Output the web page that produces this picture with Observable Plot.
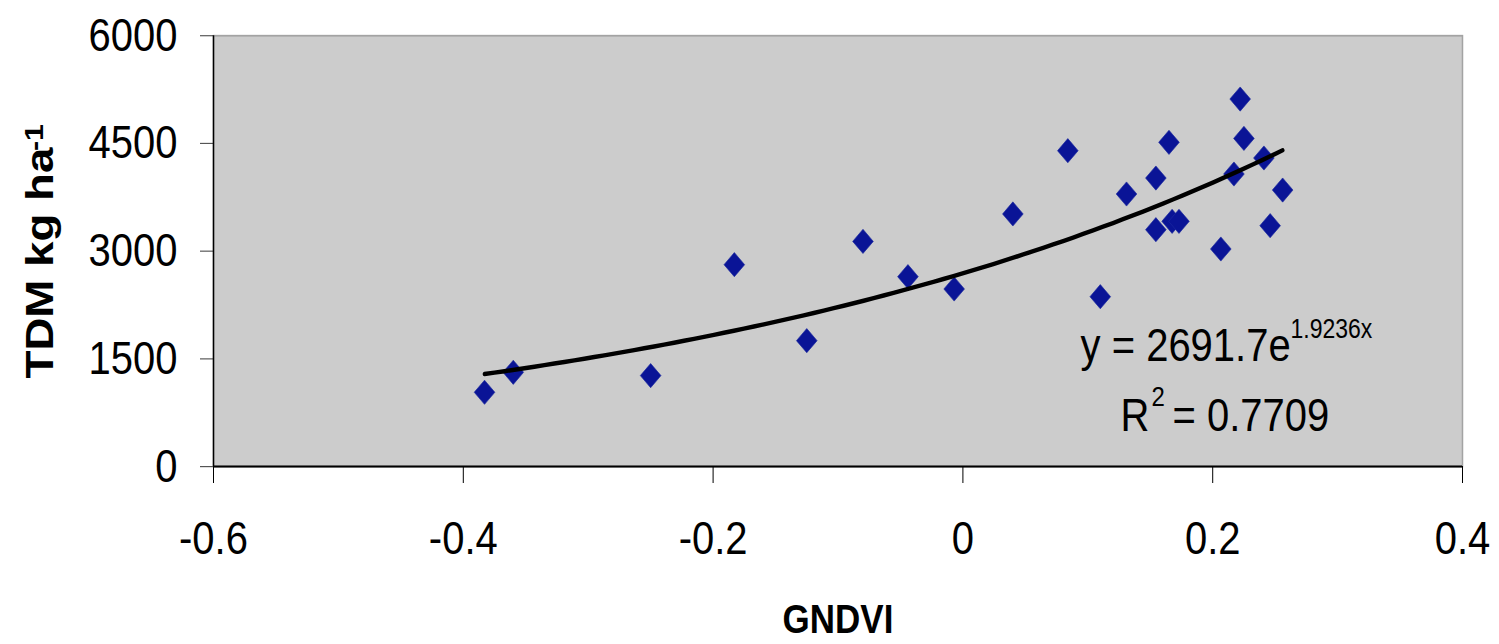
<!DOCTYPE html>
<html>
<head>
<meta charset="utf-8">
<script src="https://cdn.jsdelivr.net/npm/d3@7"></script>
<script src="https://cdn.jsdelivr.net/npm/@observablehq/plot@0.6"></script>
<style>
  html, body { margin: 0; padding: 0; background: white; overflow: hidden; }
  #chart { width: 1499px; height: 644px; overflow: hidden; }
</style>
</head>
<body>
<div id="chart"></div>
<script>
// ---- data ----
const gndvi = [-0.383, -0.360, -0.250, -0.183, -0.125, -0.080, -0.044, -0.007, 0.040, 0.084,
               0.110, 0.131, 0.1545, 0.1545, 0.165, 0.1675, 0.173, 0.2065, 0.217, 0.222,
               0.225, 0.241, 0.246, 0.256];
const tdm   = [1035, 1313, 1267, 2812, 1754, 3136, 2645, 2473, 3518, 4399,
               2366, 3796, 4018, 3299, 4515, 3415, 3415, 3030, 4074, 5118,
               4570, 4297, 3355, 3851];
const xTicks = [-0.6, -0.4, -0.2, 0, 0.2, 0.4];
const yTicks = [0, 1500, 3000, 4500, 6000];
const xLabel = "GNDVI";
const yLabel = "TDM kg ha";
const yLabelSup = "-1";
// exponential trend line shown in the chart: y = a * e^(b x)
const trendA = 2691.7;
const trendB = 1.9236;
const eqMain = "y = 2691.7e";
const eqSup = "1.9236x";
const r2Main = "R";
const r2Sup = "2";
const r2Rest = "= 0.7709";

// ---- build tables ----
const points = gndvi.map((x, i) => ({x, y: tdm[i]}));
const [xmin, xmax] = d3.extent(gndvi);
const trend = d3.range(0, 81).map(i => {
  const x = xmin + (xmax - xmin) * i / 80;
  return {x, y: trendA * Math.exp(trendB * x)};
});

const H = 550;
const S = 644 / H;
const font = "Arial, 'Liberation Sans', Helvetica, sans-serif";

const svg = Plot.plot({
  width: 1499,
  height: H,
  marginTop: 30,
  marginBottom: 152,
  marginLeft: 213,
  marginRight: 37,
  style: {fontFamily: font, color: "black", background: "white", overflow: "visible"},
  x: {domain: [-0.6, 0.4]},
  y: {domain: [0, 6000]},
  marks: [
    Plot.frame({fill: "#cccccc", stroke: "#a3a3a3", strokeWidth: 1.5}),
    Plot.axisY({ticks: yTicks, tickSize: 13, tickPadding: 23, fontSize: 40,
                tickFormat: d => String(d), label: null, stroke: "#555"}),
    Plot.axisX({ticks: xTicks, tickSize: 14.5, tickPadding: 31.6, fontSize: 40,
                tickFormat: d => String(d), label: null}),
    Plot.ruleY([0], {stroke: "black", strokeWidth: 1.7}),
    Plot.ruleX([-0.6], {stroke: "black", strokeWidth: 1.5}),
    Plot.dot(points, {x: "x", y: "y", symbol: "diamond2", r: 9.3, fill: "#0a1496", stroke: "#1c2aa0", strokeWidth: 0.6}),
    Plot.line(trend, {x: "x", y: "y", stroke: "black", strokeWidth: 3.8, curve: "linear"}),
    // equation annotation
    Plot.text([eqMain], {x: 0.0942, y: 1476, textAnchor: "start", lineAnchor: "bottom", fontSize: 40, fill: "black"}),
    Plot.text([eqSup], {x: 0.2623, y: 1796, textAnchor: "start", lineAnchor: "bottom", fontSize: 23, fill: "black"}),
    Plot.text([r2Main], {x: 0.1262, y: 501, textAnchor: "start", lineAnchor: "bottom", fontSize: 40, fill: "black"}),
    Plot.text([r2Sup], {x: 0.151, y: 849, textAnchor: "start", lineAnchor: "bottom", fontSize: 24, fill: "black"}),
    Plot.text([r2Rest], {x: 0.1678, y: 501, textAnchor: "start", lineAnchor: "bottom", fontSize: 40, fill: "black"}),
    // axis titles
    Plot.text([yLabel], {frameAnchor: "left", rotate: -90, dx: -173, dy: 10.2, textAnchor: "middle", lineAnchor: "middle",
                         fontSize: 39, fontWeight: "bold", fill: "black"}),
    Plot.text([yLabelSup], {frameAnchor: "left", rotate: -90, dx: -179, dy: -97, textAnchor: "middle", lineAnchor: "middle",
                         fontSize: 26, fontWeight: "bold", fill: "black"}),
    Plot.text([xLabel], {frameAnchor: "bottom", dy: 141.7, textAnchor: "middle", lineAnchor: "bottom",
                         fontSize: 35, fontWeight: "bold", fill: "black"})
  ]
});
svg.style.transformOrigin = "0 0";
svg.style.transform = `scale(1, ${S})`;
svg.style.maxWidth = "none";
document.getElementById("chart").appendChild(svg);
</script>
</body>
</html>
